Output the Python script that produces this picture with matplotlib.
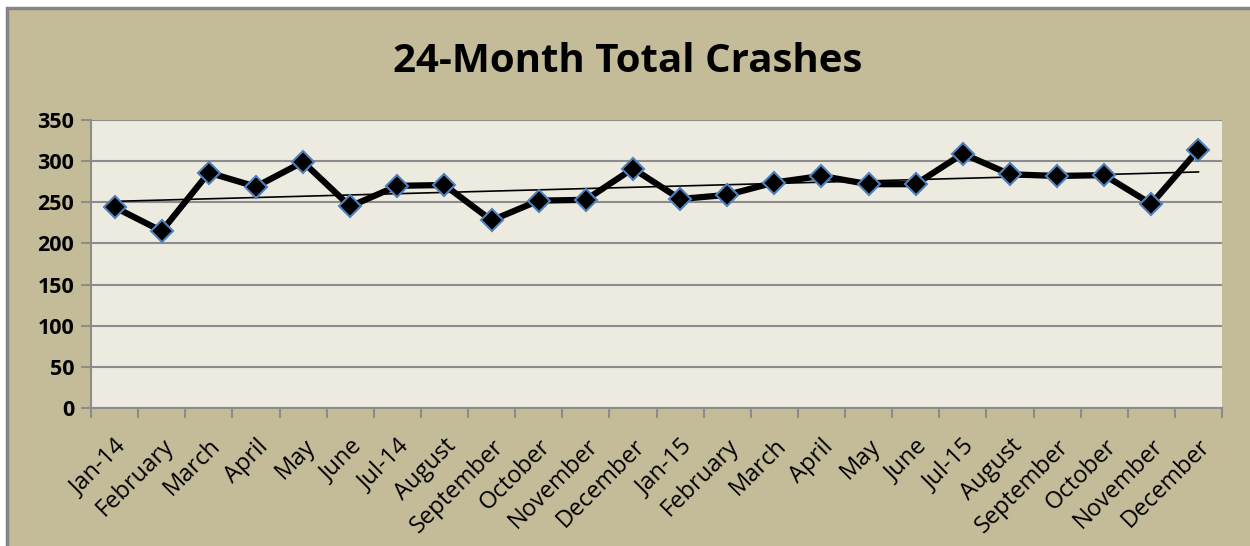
import numpy as np
import matplotlib
matplotlib.use("Agg")
from matplotlib import pyplot as plt
from matplotlib.patches import Rectangle

months = ["Jan-14", "February", "March", "April", "May", "June", "Jul-14", "August",
          "September", "October", "November", "December",
          "Jan-15", "February", "March", "April", "May", "June", "Jul-15", "August",
          "September", "October", "November", "December"]
crashes = [244, 215, 286, 269, 299, 245, 270, 271, 228, 252, 253, 291,
           254, 259, 274, 282, 272, 272, 309, 284, 282, 283, 248, 314]

yticks = [0, 50, 100, 150, 200, 250, 300, 350]

plt.rcParams['font.family'] = ['Open Sans', 'DejaVu Sans']

tan = '#c4bc98'
fig = plt.figure(figsize=(12.5, 5.46), dpi=100, facecolor='white')

# chart frame (tan background with gray border at top/left)
fig.patches.append(Rectangle((7 / 1250, -0.01), 1.0, 1.01 - 8 / 546, transform=fig.transFigure,
                             facecolor=tan, edgecolor='#858585', linewidth=2.5, zorder=-10))

ax = fig.add_axes([91 / 1250, 1 - 408 / 546, (1222 - 91) / 1250, (408 - 120) / 546])
ax.set_zorder(1)
ax.set_facecolor('#edebe0')

x = np.arange(len(crashes))
ax.plot(x, crashes, color='black', linewidth=4.5, marker='D', markersize=11,
        markerfacecolor='black', markeredgecolor='#4f81bd', markeredgewidth=1.5, zorder=3)

# linear trendline
p = np.polyfit(x, crashes, 1)
ax.plot(x, np.polyval(p, x), color='black', linewidth=1.2, zorder=2)

ax.set_xlim(-0.5, len(crashes) - 0.5)
ax.set_ylim(0, 350)
ax.set_yticks(yticks)
ax.set_yticklabels([str(v) for v in yticks], fontsize=15.5, fontweight='bold')
ax.grid(axis='y', color='#8c8c8c', linewidth=1.5)
ax.set_axisbelow(True)

ax.set_xticks(x)
ax.set_xticklabels(months, rotation=45, ha='right', rotation_mode='anchor', fontsize=17)
ax.tick_params(axis='x', length=0, pad=19)
ax.set_xticks(np.arange(-0.5, len(crashes)), minor=True)
ax.tick_params(axis='x', which='minor', length=7, width=1.5, color='#8c8c8c')
ax.tick_params(axis='y', length=7, width=1.5, color='#8c8c8c', pad=5)

for side in ['top', 'right']:
    ax.spines[side].set_visible(False)
for side in ['left', 'bottom']:
    ax.spines[side].set_color('#8c8c8c')
    ax.spines[side].set_linewidth(1.5)

fig.text(628 / 1250, 1 - 61 / 546, '24-Month Total Crashes', ha='center', va='center',
         fontsize=29, fontweight='bold')

fig.savefig('out.png', dpi=100, facecolor='white')
